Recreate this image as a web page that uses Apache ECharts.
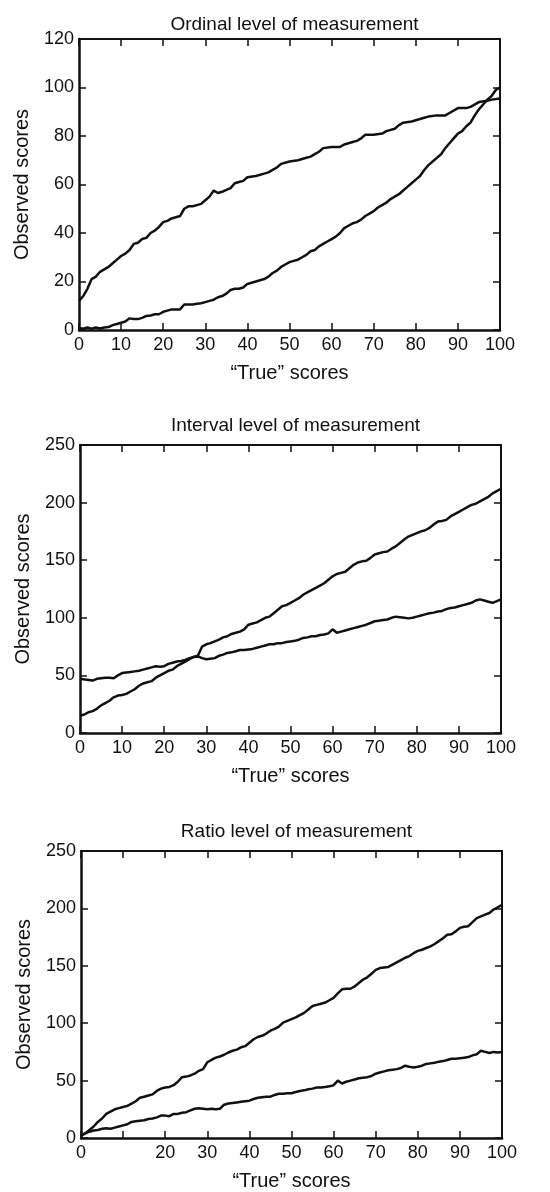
<!DOCTYPE html>
<html><head><meta charset="utf-8">
<script src="https://cdn.jsdelivr.net/npm/echarts@6/dist/echarts.min.js"></script>
<style>html,body{margin:0;padding:0;background:#fff}#c{width:550px;height:1192px}</style>
</head><body><div id="c"></div>
<script>
const titles = ['Ordinal level of measurement','Interval level of measurement','Ratio level of measurement'];
const xName = '\u201cTrue\u201d scores';
const yName = 'Observed scores';
const yMax = [120, 250, 250];
const yStep = [20, 50, 50];
const xTicks = [0,10,20,30,40,50,60,70,80,90,100];
const hiddenXLabels = [[], [], [10]];

const ordHigh = [[0,12],[1,14],[2,17],[3,21],[4,22],[5,24],[6,25],[7,26],[8,27.5],[9,29],[10,30.5],[11,31.5],[12,33],[13,35.5],[14,36],[15,37.5],[16,38],[17,40],[18,41],[19,42.5],[20,44.5],[21,45],[22,46],[23,46.5],[24,47],[25,50],[26,51],[27,51],[28,51.5],[29,52],[30,53.5],[31,55],[32,57.5],[33,56.5],[34,57],[35,57.8],[36,58.5],[37,60.5],[38,61],[39,61.5],[40,63],[42,63.5],[44,64.5],[45,65],[46,66],[47,67],[48,68.5],[50,69.5],[52,70],[54,71],[55,71.5],[56,72.5],[57,73.5],[58,75],[60,75.5],[62,75.5],[63,76.5],[65,77.5],[66,78],[67,79],[68,80.5],[70,80.5],[72,81],[73,82],[75,83],[76,84.5],[77,85.5],[79,86],[80,86.5],[82,87.5],[83,88],[85,88.5],[87,88.5],[88,89.5],[90,91.5],[92,91.5],[93,92],[95,94],[97,94.5],[98,95],[100,95.5]];
const ordLow = [[0,0.8],[1,0.5],[2,1],[3,0.5],[4,1],[5,0.6],[6,1],[7,1.2],[8,2],[9,2.5],[10,3],[11,3.5],[12,4.8],[13,4.5],[14,4.5],[15,5],[16,5.8],[17,6],[18,6.5],[19,6.5],[20,7.5],[21,8],[22,8.5],[23,8.5],[24,8.5],[25,10.5],[26,10.5],[27,10.5],[28,10.8],[29,11],[30,11.5],[31,12],[32,12.5],[33,13.5],[34,14],[35,15],[36,16.5],[37,17],[38,17],[39,17.5],[40,19],[41,19.5],[42,20],[43,20.5],[44,21],[45,22],[46,23.5],[47,24.5],[48,26],[49,27],[50,28],[51,28.5],[52,29],[53,30],[54,31],[55,32.5],[56,33],[57,34.5],[58,35.5],[59,36.5],[60,37.5],[61,38.5],[62,40],[63,42],[64,43],[65,44],[66,44.5],[67,45.5],[68,47],[69,48],[70,49],[71,50.5],[72,51.5],[73,52.5],[74,54],[75,55],[76,56],[77,57.5],[78,59],[79,60.5],[80,62],[81,63.5],[82,66],[83,68],[84,69.5],[85,71],[86,72.5],[87,75],[88,77],[89,79],[90,81],[91,82],[92,84],[93,85.5],[94,88.5],[95,91],[96,93],[97,95],[98,96.5],[99,99],[100,100]];
const intSteep = [[0,15],[1,16],[2,18],[3,19],[4,21],[5,24],[6,26],[7,28],[8,31],[9,32.5],[10,33],[11,34],[12,36],[13,38],[14,41],[15,43],[16,44],[17,45],[18,48],[19,50],[20,52],[21,54],[22,55],[23,58],[24,60],[25,62],[26,64],[27,66],[28,67],[29,75],[30,77],[31,78],[32,79.5],[33,81],[34,83],[35,84],[36,86],[37,87],[38,88],[39,90],[40,94],[41,95],[42,96],[43,98],[44,100],[45,101],[46,104],[47,107],[48,110],[49,111],[50,113],[51,115],[52,117],[53,120],[54,122],[55,124],[56,126],[57,128],[58,130],[59,133],[60,136],[61,138],[62,139],[63,140],[64,143],[65,146],[66,148],[67,149],[68,149.5],[69,152],[70,155],[71,156],[72,157],[73,157.5],[74,160],[75,162],[76,165],[77,168],[78,170.5],[79,172],[80,173.5],[81,175],[82,176],[83,178],[84,181],[85,183.5],[86,184],[87,185],[88,188],[89,190],[90,192],[91,194],[92,196],[93,198],[94,199],[95,201],[96,203],[97,205],[98,208],[99,210],[100,212]];
const intFlat = [[0,47],[2,46],[3,45.5],[4,47],[5,47.5],[6,48],[7,48],[8,47.5],[9,50],[10,52],[11,52.5],[12,53],[13,53.5],[14,54],[15,55],[16,56],[17,57],[18,58],[19,57.5],[20,58],[21,60],[22,61],[23,62],[24,62.5],[25,63.5],[26,65],[27,66],[28,66.5],[29,65],[30,64],[31,64.5],[32,65],[33,67],[34,68],[35,69.5],[36,70],[37,71],[38,72],[39,72],[40,72.5],[41,73],[42,74],[43,75],[44,76],[45,77],[46,77],[47,78],[48,78],[49,79],[50,79.5],[51,80],[52,81],[53,82.5],[54,83],[55,84],[56,84],[57,85],[58,85.5],[59,86.5],[60,90],[61,87],[62,88],[63,89],[64,90],[65,91],[66,92],[67,93],[68,94],[69,95.5],[70,97],[71,97.5],[72,98],[73,98.5],[74,100],[75,101],[76,100.5],[77,100],[78,99.5],[79,100],[80,101],[81,102],[82,103],[83,104],[84,104.5],[85,105.5],[86,106],[87,107.5],[88,108.5],[89,109],[90,110],[91,111],[92,112],[93,113],[94,115],[95,116],[96,115],[97,114],[98,113],[99,114.5],[100,116]];
const ratSteep = [[0,2],[1,4],[2,7],[3,10],[4,14],[5,17],[6,21],[7,23],[8,25],[9,26],[10,27],[11,28],[12,30],[13,32],[14,35],[15,36],[16,37],[17,38],[18,41],[19,43],[20,44],[21,44.5],[22,46],[23,49],[24,53],[25,53.5],[26,54.5],[27,56],[28,58.5],[29,60],[30,66],[31,68],[32,70],[33,71],[34,72.5],[35,74.5],[36,76],[37,77],[38,79],[39,80],[40,83],[41,86],[42,88],[43,89],[44,91],[45,93.5],[46,95],[47,97],[48,100.5],[49,102],[50,103.5],[51,105],[52,107],[53,109],[54,112],[55,115],[56,116],[57,117],[58,118],[59,120],[60,122],[61,126],[62,129.5],[63,130],[64,130],[65,132],[66,135],[67,138],[68,140],[69,143],[70,146.5],[71,148],[72,148.5],[73,149],[74,151],[75,153],[76,155],[77,157],[78,158.5],[79,161],[80,163],[81,164],[82,165.5],[83,167],[84,169],[85,171.5],[86,174],[87,177],[88,177.5],[89,180],[90,183],[91,184],[92,184.5],[93,188],[94,191.5],[95,193],[96,194.5],[97,196],[98,199],[99,201],[100,203]];
const ratFlat = [[0,2],[1,4],[2,5.5],[3,6.5],[4,7],[5,8],[6,8.5],[7,8],[8,9],[9,10],[10,11],[11,12],[12,14],[13,14.5],[14,15],[15,15.5],[16,16.5],[17,17],[18,18],[19,19.5],[20,19.5],[21,19],[22,21],[23,21],[24,22],[25,22.5],[26,24],[27,25.5],[28,26],[29,25.5],[30,25],[31,25.5],[32,25],[33,25.5],[34,29],[35,30],[36,30.5],[37,31],[38,31.5],[39,32],[40,32.5],[41,34],[42,35],[43,35.5],[44,36],[45,36],[46,37.5],[47,38.5],[48,38.5],[49,39],[50,39],[51,40],[52,41],[53,41.5],[54,42.5],[55,43],[56,44],[57,44],[58,44.5],[59,45],[60,46],[61,50],[62,47.5],[63,49],[64,50],[65,51],[66,52],[67,52.5],[68,53],[69,54],[70,56],[71,57],[72,58],[73,59],[74,59.5],[75,60],[76,61],[77,63],[78,62],[79,61.5],[80,62],[81,63],[82,64.5],[83,65],[84,65.5],[85,66.5],[86,67],[87,68],[88,69],[89,69],[90,69.5],[91,70],[92,70.5],[93,72],[94,73],[95,76],[96,75],[97,74],[98,75],[99,74.5],[100,75]];

const panelSeries = [[ordHigh, ordLow], [intSteep, intFlat], [ratSteep, ratFlat]];

const FONT = 'Liberation Sans';
const layout = [
  {left: 79, top: 39, width: 421, height: 291, titleTop: 10},
  {left: 80, top: 445, width: 421, height: 288, titleTop: 411},
  {left: 81, top: 851, width: 421, height: 288, titleTop: 817}
];

const grid = [], xAxis = [], yAxis = [], series = [], title = [];
layout.forEach((L, i) => {
  grid.push({left: L.left, top: L.top, width: L.width, height: L.height, containLabel: false});
  title.push({text: titles[i], left: L.left + L.width / 2, top: L.titleTop, textAlign: 'center',
    textStyle: {fontFamily: FONT, fontSize: 19, fontWeight: 'normal', color: '#111'}});
  const hide = hiddenXLabels[i];
  const tickCommon = {show: true, inside: true, length: 7, lineStyle: {color: '#111', width: 1.5}};
  xAxis.push({type: 'value', gridIndex: i, min: 0, max: 100, interval: 10, position: 'bottom',
    name: xName, nameLocation: 'middle', nameGap: 33,
    nameTextStyle: {fontFamily: FONT, fontSize: 20, color: '#111'},
    axisLine: {show: true, onZero: false, lineStyle: {color: '#111', width: 2.5}},
    axisTick: tickCommon, splitLine: {show: false},
    axisLabel: {fontFamily: FONT, fontSize: 18, color: '#111', margin: 6,
      formatter: v => hide.indexOf(v) >= 0 ? '' : String(v)}});
  xAxis.push({type: 'value', gridIndex: i, min: 0, max: 100, interval: 10, position: 'top',
    axisLine: {show: true, onZero: false, lineStyle: {color: '#111', width: 2}},
    axisTick: tickCommon, splitLine: {show: false}, axisLabel: {show: false}});
  yAxis.push({type: 'value', gridIndex: i, min: 0, max: yMax[i], interval: yStep[i], position: 'left',
    name: yName, nameLocation: 'middle', nameGap: 47, nameRotate: 90,
    nameTextStyle: {fontFamily: FONT, fontSize: 20, color: '#111'},
    axisLine: {show: true, onZero: false, lineStyle: {color: '#111', width: 2.5}},
    axisTick: tickCommon, splitLine: {show: false},
    axisLabel: {fontFamily: FONT, fontSize: 18, color: '#111', margin: 5}});
  yAxis.push({type: 'value', gridIndex: i, min: 0, max: yMax[i], interval: yStep[i], position: 'right',
    axisLine: {show: true, onZero: false, lineStyle: {color: '#111', width: 2}},
    axisTick: tickCommon, splitLine: {show: false}, axisLabel: {show: false}});
  panelSeries[i].forEach(d => {
    series.push({type: 'line', xAxisIndex: i * 2, yAxisIndex: i * 2, data: d,
      showSymbol: false, symbol: 'none', animation: false, smooth: false,
      lineStyle: {color: '#111', width: 2.5}});
  });
});

const chart = echarts.init(document.getElementById('c'), null, {renderer: 'canvas'});
chart.setOption({backgroundColor: '#fff', animation: false, title, grid, xAxis, yAxis, series});
</script></body></html>
